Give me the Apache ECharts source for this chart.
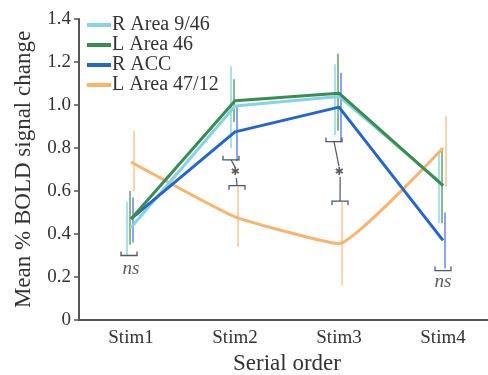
<!DOCTYPE html>
<html>
<head>
<meta charset="utf-8">
<script src="https://cdn.jsdelivr.net/npm/echarts@6/dist/echarts.min.js"></script>
<style>
  html, body { margin: 0; padding: 0; background: #fff; }
  #chart { width: 488px; height: 375px; }
</style>
</head>
<body>
<div id="chart"></div>
<script>
const categories = ['Stim1', 'Stim2', 'Stim3', 'Stim4'];

const rArea946 = [0.43, 0.995, 1.04, 0.63];
const lArea46 = [0.47, 1.02, 1.055, 0.625];
const rAcc = [0.47, 0.875, 0.99, 0.37];
const lArea4712 = [0.735, 0.48, 0.355, 0.80];

// error bar ranges [low, high]
const rArea946Err = [[0.30, 0.55], [0.80, 1.18], [0.86, 1.19], [0.45, 0.78]];
const lArea46Err = [[0.35, 0.60], [0.92, 1.12], [0.88, 1.24], [0.45, 0.80]];
const rAccErr = [[0.36, 0.57], [0.74, 1.00], [0.83, 1.15], [0.24, 0.50]];
const lArea4712Err = [[0.60, 0.88], [0.34, 0.62], [0.16, 0.55], [0.62, 0.95]];

// significance marks
const bracketCat = [0, 1, 1, 2, 2, 3];
const bracketY = [0.30, 0.745, 0.625, 0.83, 0.553, 0.23];
const bracketDir = [1, 1, -1, 1, -1, 1];
const connectorCat = [1, 1, 2, 2];
const connectorFrom = [0.745, 0.625, 0.83, 0.553];
const connectorTo = [0.71, 0.66, 0.715, 0.665];
const starCat = [1, 2];
const starY = [0.688, 0.69];
const nsCat = [0, 3];
const nsY = [0.235, 0.175];

const serif = '"Liberation Serif", "DejaVu Serif", serif';
const colors = {
  cyan: '#86d3e3',
  green: '#3a8c50',
  blue: '#2466cc',
  orange: '#f9b46e'
};
const errColors = {
  cyan: '#a8e0ec',
  green: '#86bb8f',
  blue: '#8aa6ea',
  orange: '#fcd3aa'
};
const markColor = '#4a5a66';

const chart = echarts.init(document.getElementById('chart'));

function errSeries(name, ranges, color, dx) {
  return {
    type: 'custom',
    name: name + ' err',
    silent: true,
    z: 1,
    data: ranges.map((r, i) => [i, r[0], r[1]]),
    renderItem: (params, api) => {
      const p1 = api.coord([api.value(0), api.value(1)]);
      const p2 = api.coord([api.value(0), api.value(2)]);
      return {
        type: 'line',
        shape: { x1: p1[0] + dx, y1: p1[1], x2: p2[0] + dx, y2: p2[1] },
        style: { stroke: color, lineWidth: 2 }
      };
    }
  };
}

function lineSeries(name, values, color, smooth) {
  return {
    type: 'line',
    name: name,
    data: values,
    showSymbol: false,
    smooth: smooth || false,
    z: 3,
    lineStyle: { color: color, width: 3 },
    itemStyle: { color: color }
  };
}

// small horizontal nudges so paired brackets sit like the original
const bracketOffsets = [-2, -4, 2, -5, 1, 0];
const connectorOffsets = [-4, 2, -5, 1];

const option = {
  animation: false,
  grid: { left: 79, right: -7, top: 19, bottom: 55, outerBoundsMode: 'none' },
  legend: {
    left: 82,
    top: 10,
    orient: 'vertical',
    itemGap: 0,
    itemWidth: 24,
    itemHeight: 4,
    icon: 'rect',
    data: ['R Area 9/46', 'L Area 46', 'R ACC', 'L Area 47/12'],
    textStyle: { fontFamily: serif, fontSize: 20, lineHeight: 20, color: '#333', padding: [0, 0, 0, -4] }
  },
  xAxis: {
    type: 'category',
    data: categories,
    boundaryGap: true,
    name: 'Serial order',
    nameLocation: 'middle',
    nameGap: 32,
    nameTextStyle: { fontFamily: serif, fontSize: 23, color: '#333' },
    axisLine: { lineStyle: { color: '#555', width: 2 } },
    axisTick: { show: false },
    axisLabel: { fontFamily: serif, fontSize: 19, color: '#333', margin: 9 }
  },
  yAxis: {
    type: 'value',
    min: 0,
    max: 1.4,
    interval: 0.2,
    name: 'Mean % BOLD signal change',
    nameLocation: 'middle',
    nameGap: 44,
    nameTextStyle: { fontFamily: serif, fontSize: 23, color: '#333' },
    splitLine: { show: false },
    axisLine: { show: true, lineStyle: { color: '#555', width: 2 } },
    axisTick: { show: true, length: 5, lineStyle: { color: '#555', width: 1.5 } },
    axisLabel: {
      fontFamily: serif, fontSize: 19, color: '#333', margin: 8,
      formatter: v => (v === 0 ? '0' : v.toFixed(1))
    }
  },
  series: [
    errSeries('R Area 9/46', rArea946Err, errColors.cyan, -4),
    errSeries('L Area 46', lArea46Err, errColors.green, -1),
    errSeries('R ACC', rAccErr, errColors.blue, 2),
    errSeries('L Area 47/12', lArea4712Err, errColors.orange, 3),
    lineSeries('L Area 47/12', lArea4712, colors.orange, 0.12),
    lineSeries('R Area 9/46', rArea946, colors.cyan),
    lineSeries('R ACC', rAcc, colors.blue),
    lineSeries('L Area 46', lArea46, colors.green),
    {
      type: 'custom',
      name: 'brackets',
      silent: true,
      z: 4,
      data: bracketCat.map((c, i) => [c, bracketY[i], bracketDir[i], i]),
      renderItem: (params, api) => {
        const p = api.coord([api.value(0), api.value(1)]);
        const dir = api.value(2);
        const x = p[0] + bracketOffsets[api.value(3)];
        const y = p[1];
        const w = 8;
        const h = 4 * dir;
        return {
          type: 'polyline',
          shape: { points: [[x - w, y - h], [x - w, y], [x + w, y], [x + w, y - h]] },
          style: { stroke: markColor, lineWidth: 1.3, fill: null }
        };
      }
    },
    {
      type: 'custom',
      name: 'connectors',
      silent: true,
      z: 4,
      data: connectorCat.map((c, i) => [c, connectorFrom[i], connectorTo[i], i]),
      renderItem: (params, api) => {
        const p1 = api.coord([api.value(0), api.value(1)]);
        const p2 = api.coord([api.value(0), api.value(2)]);
        const dx = connectorOffsets[api.value(3)];
        return {
          type: 'line',
          shape: { x1: p1[0] + dx, y1: p1[1], x2: p2[0] + dx * 0.2 + 1, y2: p2[1] },
          style: { stroke: markColor, lineWidth: 1.2 }
        };
      }
    },
    {
      type: 'scatter',
      name: 'stars',
      silent: true,
      symbolSize: 0,
      z: 5,
      data: starCat.map((c, i) => [c, starY[i]]),
      label: {
        show: true, position: 'inside', formatter: '✱', offset: [0, 0],
        fontFamily: '"DejaVu Sans", sans-serif', fontSize: 11, color: '#333'
      }
    },
    {
      type: 'scatter',
      name: 'ns',
      silent: true,
      symbolSize: 0,
      z: 5,
      data: nsCat.map((c, i) => [c, nsY[i]]),
      label: {
        show: true, position: 'inside', formatter: 'ns',
        fontFamily: serif, fontStyle: 'italic', fontSize: 19, color: '#333'
      }
    }
  ]
};

chart.setOption(option);
</script>
</body>
</html>
